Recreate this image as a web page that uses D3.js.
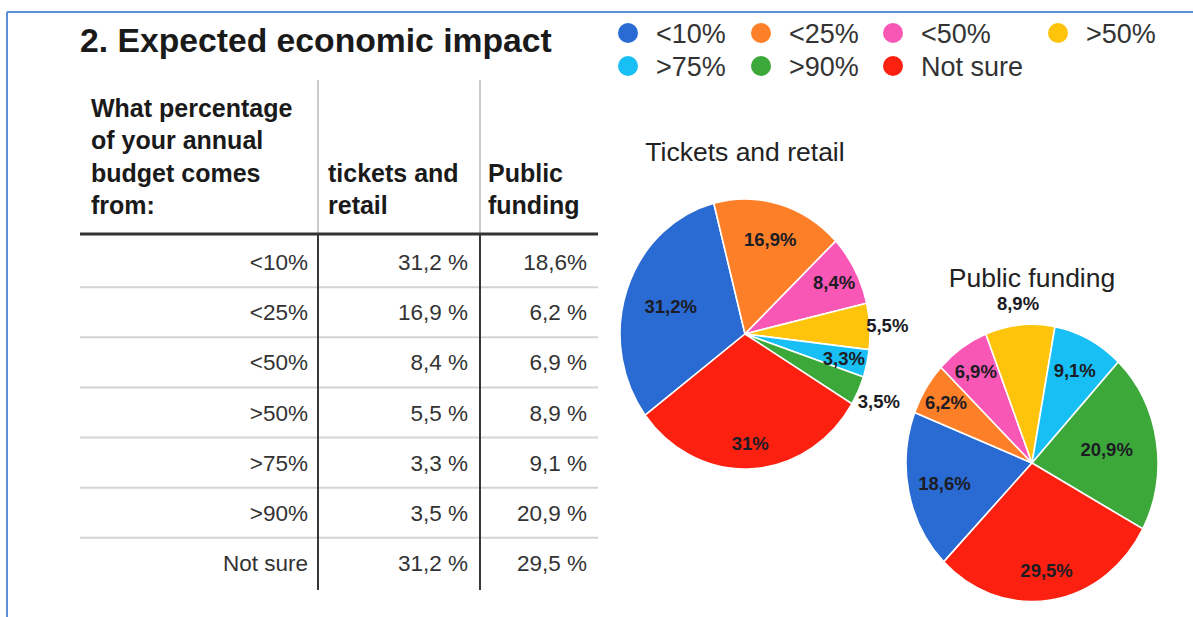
<!DOCTYPE html>
<html>
<head>
<meta charset="utf-8">
<script src="https://cdn.jsdelivr.net/npm/d3@7"></script>
<style>
  html, body { margin: 0; padding: 0; background: #fff; }
  svg { display: block; font-family: "Liberation Sans", Arial, sans-serif; }
</style>
</head>
<body>
<svg id="chart" width="1193" height="617"></svg>
<script>
// ---- data ----
const categories = ["<10%", "<25%", "<50%", ">50%", ">75%", ">90%", "Not sure"];
const colors = ["#2a6ad3", "#fd7f28", "#f857b5", "#fdc40b", "#17bff5", "#3ca83a", "#fb2010"];
const ticketsPie = [31.2, 16.9, 8.4, 5.5, 3.3, 3.5, 31];
const publicPie = [18.6, 6.2, 6.9, 8.9, 9.1, 20.9, 29.5];
const ticketsTable = ["31,2 %", "16,9 %", "8,4 %", "5,5 %", "3,3 %", "3,5 %", "31,2 %"];
const publicTable = ["18,6%", "6,2 %", "6,9 %", "8,9 %", "9,1 %", "20,9 %", "29,5 %"];
const questionLines = ["What percentage", "of your annual", "budget comes", "from:"];
const col2Lines = ["tickets and", "retail"];
const col3Lines = ["Public", "funding"];
const titleText = "2. Expected economic impact";
const pieTitles = ["Tickets and retail", "Public funding"];

// ---- layout ----
const svg = d3.select("#chart");

// frame
svg.append("line").attr("x1", 7).attr("x2", 1193).attr("y1", 12).attr("y2", 12)
  .attr("stroke", "#5b8fd6").attr("stroke-width", 2);
svg.append("line").attr("x1", 7).attr("x2", 7).attr("y1", 12).attr("y2", 617)
  .attr("stroke", "#5b8fd6").attr("stroke-width", 2);

// title
svg.append("text").attr("x", 80).attr("y", 52)
  .attr("font-size", 33.7).attr("font-weight", "bold").attr("fill", "#1a1a1a")
  .text(titleText);

// ---- table ----
const tLeft = 80, tRight = 598, colX1 = 318, colX2 = 480;
const headerBase = d3.scaleLinear().domain([0, 3]).range([117, 214]);

svg.append("g").selectAll("text").data(questionLines).join("text")
  .attr("x", 91).attr("y", (d, i) => headerBase(i))
  .attr("font-size", 25).attr("font-weight", "bold").attr("fill", "#1a1a1a").text(d => d);
svg.append("g").selectAll("text").data(col2Lines).join("text")
  .attr("x", 328).attr("y", (d, i) => headerBase(i + 2))
  .attr("font-size", 25).attr("font-weight", "bold").attr("fill", "#1a1a1a").text(d => d);
svg.append("g").selectAll("text").data(col3Lines).join("text")
  .attr("x", 488).attr("y", (d, i) => headerBase(i + 2))
  .attr("font-size", 25).attr("font-weight", "bold").attr("fill", "#1a1a1a").text(d => d);

const headerLineY = 234;
const rowY = d3.scaleBand().domain(categories).range([headerLineY + 3, 588]);

// separators
svg.append("g").selectAll("line").data(categories.slice(1)).join("line")
  .attr("x1", tLeft).attr("x2", tRight)
  .attr("y1", d => rowY(d)).attr("y2", d => rowY(d))
  .attr("stroke", "#d4d4d4").attr("stroke-width", 2);

// vertical lines
[colX1, colX2].forEach(x => {
  svg.append("line").attr("x1", x).attr("x2", x).attr("y1", 80).attr("y2", headerLineY)
    .attr("stroke", "#b8b8b8").attr("stroke-width", 1.5);
  svg.append("line").attr("x1", x).attr("x2", x).attr("y1", headerLineY).attr("y2", 590)
    .attr("stroke", "#222").attr("stroke-width", 1.8);
});

// thick header line
svg.append("line").attr("x1", tLeft).attr("x2", tRight).attr("y1", headerLineY).attr("y2", headerLineY)
  .attr("stroke", "#333").attr("stroke-width", 3);

const rowText = (arr, x) => svg.append("g").selectAll("text").data(arr).join("text")
  .attr("x", x).attr("y", (d, i) => rowY(categories[i]) + rowY.bandwidth() / 2)
  .attr("dy", "0.36em").attr("text-anchor", "end")
  .attr("font-size", 22.5).attr("fill", "#333").text(d => d);
rowText(categories, 308);
rowText(ticketsTable, 468);
rowText(publicTable, 587);

// ---- legend ----
const legendCols = [628, 761, 893, 1058];
const legendRows = [33, 66];
const lg = svg.append("g").selectAll("g").data(categories).join("g")
  .attr("transform", (d, i) => `translate(${legendCols[i % 4]},${legendRows[Math.floor(i / 4)]})`);
lg.append("circle").attr("r", 10).attr("fill", (d, i) => colors[i]);
lg.append("text").attr("x", 28).attr("dy", "0.36em")
  .attr("font-size", 27).attr("fill", "#333").text(d => d);

// ---- pies ----
const fmt = v => String(v).replace(".", ",") + "%";

function drawPie(values, cfg) {
  const pie = d3.pie().sort(null)
    .startAngle(cfg.start * Math.PI / 180)
    .endAngle(cfg.start * Math.PI / 180 + 2 * Math.PI);
  const arcs = pie(values);
  const arc = d3.arc().innerRadius(0).outerRadius(cfg.r);
  const g = svg.append("g").attr("transform", `translate(${cfg.cx},${cfg.cy}) scale(1,${cfg.sy})`);
  g.selectAll("path").data(arcs).join("path")
    .attr("d", arc).attr("fill", (d, i) => colors[i])
    .attr("stroke", "#fff").attr("stroke-width", 1.6)
    .attr("vector-effect", "non-scaling-stroke");

  svg.append("text").attr("x", cfg.cx).attr("y", cfg.titleY)
    .attr("text-anchor", "middle").attr("font-size", 26.5).attr("fill", "#222")
    .text(cfg.title);

  const mid = d => (d.startAngle + d.endAngle) / 2;
  svg.append("g").selectAll("text").data(arcs).join("text")
    .attr("x", (d, i) => cfg.cx + cfg.r * cfg.labelR[i] * Math.sin(mid(d)))
    .attr("y", (d, i) => cfg.cy - cfg.r * cfg.sy * cfg.labelR[i] * Math.cos(mid(d)))
    .attr("dy", "0.36em").attr("text-anchor", "middle")
    .attr("font-size", 18.5).attr("font-weight", "bold").attr("fill", "#1c1c24")
    .text(d => fmt(d.data));
}

drawPie(ticketsPie, { cx: 745, cy: 334, r: 125, sy: 1.08, start: -127,
  labelR: [0.63, 0.73, 0.81, 1.14, 0.81, 1.18, 0.81],
  title: pieTitles[0], titleY: 161 });
drawPie(publicPie, { cx: 1032, cy: 463, r: 126, sy: 1.1, start: -135.5,
  labelR: [0.71, 0.81, 0.8, 1.16, 0.75, 0.6, 0.78],
  title: pieTitles[1], titleY: 287 });
</script>
</body>
</html>
